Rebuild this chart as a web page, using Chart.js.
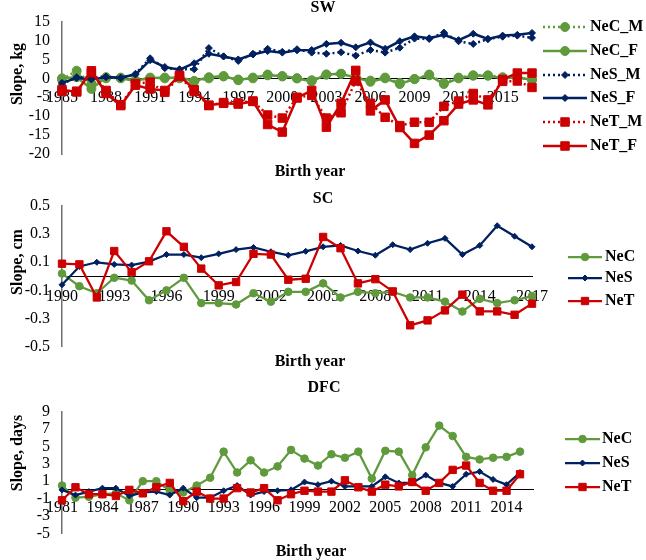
<!DOCTYPE html>
<html><head><meta charset="utf-8">
<script src="https://cdn.jsdelivr.net/npm/chart.js@4/dist/chart.umd.min.js"></script>
<style>
html,body{margin:0;padding:0;background:#fff;}
#wrap{position:relative;width:646px;height:560px;overflow:hidden;background:#fff;}
.panel{position:absolute;left:0;width:646px;}
canvas{display:block;}
</style></head><body>
<div id="wrap">
<div class="panel" style="top:0;height:180px"><canvas id="c1" width="646" height="180"></canvas></div>
<div class="panel" style="top:180px;height:190px"><canvas id="c2" width="646" height="190"></canvas></div>
<div class="panel" style="top:370px;height:190px"><canvas id="c3" width="646" height="190"></canvas></div>
</div>
<script>
// ---------- DATA ----------
const swYears = ['1985','1986','1987','1988','1989','1990','1991','1992','1993','1994','1995','1996','1997','1998','1999','2000','2001','2002','2003','2004','2005','2006','2007','2008','2009','2010','2011','2012','2013','2014','2015','2016','2017'];
const swNeC_M = [-0.3,2.0,-1.5,0.0,0.2,-0.5,0.0,0.2,0.0,-0.8,0.0,0.5,-0.3,0.0,1.0,0.5,0.0,-0.5,1.0,1.2,0.3,-0.6,0.2,-1.2,-0.2,1.0,-1.2,0.2,0.8,0.8,0.3,0.2,-0.4];
const swNeC_F = [0.0,0.3,-2.8,0.3,0.0,-0.7,0.2,0.0,0.3,-0.7,0.3,0.6,-0.5,0.2,0.8,0.6,0.0,-0.8,1.0,1.2,0.2,-0.9,0.0,-1.5,-0.2,0.8,-1.5,0.0,0.7,0.7,0.0,0.2,-0.4];
const swNeS_M = [-1.5,0.3,0.2,0.5,0.0,1.2,5.3,2.7,2.4,2.4,8.0,5.8,4.6,6.5,7.8,7.0,7.7,6.8,6.5,6.9,6.0,7.5,6.8,8.1,10.5,10.4,12.1,9.8,9.1,10.4,11.0,11.3,10.7];
const swNeS_F = [-1.2,0.1,-0.3,0.3,0.2,1.0,4.8,3.0,2.3,4.0,6.5,5.8,5.0,6.3,7.2,6.8,7.4,7.5,9.1,9.4,8.2,9.5,7.8,9.8,11.1,10.6,11.5,10.1,11.8,10.4,11.3,11.5,12.0];
const swNeT_M = [-3.5,-3.4,1.5,-3.2,-7.0,-1.4,-1.0,-3.7,0.5,-3.5,-7.2,-6.4,-6.5,-6.0,-9.7,-10.5,-5.0,-4.5,-10.5,-9.1,-0.7,-6.6,-10.3,-12.5,-11.6,-11.6,-7.4,-6.0,-4.0,-5.7,-0.8,-0.7,-2.4];
const swNeT_F = [-3.0,-3.6,2.0,-4.0,-7.2,-1.8,-2.8,-3.2,0.8,-3.0,-7.1,-6.6,-6.8,-6.1,-12.2,-14.2,-5.2,-3.2,-12.9,-6.6,2.1,-8.6,-5.7,-13.0,-17.2,-15.0,-11.2,-6.8,-5.7,-7.0,-0.3,1.4,1.4];
const swTicks = [-20,-15,-10,-5,0,5,10,15];

const scYears = ['1990','1991','1992','1993','1994','1995','1996','1997','1998','1999','2000','2001','2002','2003','2004','2005','2006','2007','2008','2009','2010','2011','2012','2013','2014','2015','2016','2017'];
const scNeC = [0.02,-0.07,-0.12,-0.01,-0.03,-0.17,-0.10,-0.01,-0.19,-0.19,-0.20,-0.12,-0.18,-0.11,-0.11,-0.05,-0.15,-0.11,-0.12,-0.11,-0.15,-0.15,-0.18,-0.25,-0.16,-0.19,-0.17,-0.14];
const scNeS = [-0.06,0.07,0.10,0.085,0.08,0.105,0.155,0.155,0.133,0.16,0.19,0.205,0.175,0.15,0.178,0.21,0.22,0.18,0.15,0.225,0.19,0.235,0.27,0.155,0.22,0.36,0.285,0.21];
const scNeT = [0.09,0.085,-0.15,0.18,0.03,0.107,0.32,0.21,0.055,-0.064,-0.04,0.16,0.155,-0.024,-0.017,0.28,0.20,-0.05,-0.02,-0.107,-0.348,-0.313,-0.242,-0.13,-0.249,-0.249,-0.273,-0.194];
const scTicks = [-0.5,-0.3,-0.1,0.1,0.3,0.5];

const dfcYears = ['1981','1982','1983','1984','1985','1986','1987','1988','1989','1990','1991','1992','1993','1994','1995','1996','1997','1998','1999','2000','2001','2002','2003','2004','2005','2006','2007','2008','2009','2010','2011','2012','2013','2014','2015','2016'];
const dfcNeC = [0.5,-0.9,-0.8,-0.5,-0.4,-1.2,1.0,1.0,-0.1,-0.3,0.5,1.4,4.4,2.0,3.4,2.0,2.7,4.6,3.6,2.8,4.1,3.7,4.4,1.3,4.5,4.4,1.7,4.9,7.4,6.2,3.8,3.5,3.7,3.8,4.4,null];
const dfcNeS = [0.0,-0.6,-0.2,0.2,0.2,-0.7,-0.3,-0.2,-0.6,0.2,-0.9,-0.9,-0.1,0.5,-0.6,-0.2,-0.1,0.0,0.9,0.6,1.0,0.4,0.4,0.4,1.5,0.8,0.8,1.7,0.8,0.4,1.8,2.1,1.2,0.6,2.0,null];
const dfcNeT = [-1.2,0.3,-0.5,-0.5,-0.7,0.0,-0.4,0.3,0.8,-1.3,-0.2,-1.0,-1.0,0.2,-0.3,0.2,-1.2,-0.5,-0.1,-0.2,-0.2,1.1,0.3,-0.2,0.6,0.4,0.9,-0.1,0.8,2.3,2.8,0.8,-0.1,-0.1,1.8,null];
const dfcTicks = [-5,-3,-1,1,3,5,7,9];

// ---------- STYLE ----------
const GREEN = '#5f9a3c', BLUE = '#002060', RED = '#cc0000';
const FONT = '"Liberation Serif","Times New Roman",serif';

function series(label, data, color, style, radius, dashed, order, lw) {
  return {label, data, borderColor: color, backgroundColor: color,
    pointBackgroundColor: color, pointBorderColor: color, pointBorderWidth: 1,
    pointStyle: style, pointRadius: radius, pointHoverRadius: radius,
    borderWidth: lw, borderDash: dashed ? [2, 3] : [], tension: 0,
    clip: false, order: order, spanGaps: false};
}

function marker(ctx, style, r, x, y) {
  ctx.beginPath();
  if (style === 'circle') { ctx.arc(x, y, r, 0, Math.PI * 2); }
  else if (style === 'rect') { const s = Math.SQRT1_2 * r; ctx.rect(x - s, y - s, 2 * s, 2 * s); }
  else { ctx.moveTo(x, y - r); ctx.lineTo(x + r, y); ctx.lineTo(x, y + r); ctx.lineTo(x - r, y); ctx.closePath(); }
  ctx.fill(); ctx.stroke();
}

const decor = {
  id: 'decor',
  afterDraw(chart, args, o) {
    const ctx = chart.ctx;
    ctx.save();
    ctx.fillStyle = '#000';
    ctx.font = 'bold 16px ' + FONT;
    ctx.textAlign = 'center'; ctx.textBaseline = 'middle';
    ctx.fillText(o.title, o.titleX, o.titleY);
    ctx.fillText(o.xTitle, o.xTitleX, o.xTitleY);
    ctx.save(); ctx.translate(o.yTitleX, o.yTitleY); ctx.rotate(-Math.PI / 2);
    ctx.fillText(o.yTitle, 0, 0); ctx.restore();
    chart.data.datasets.forEach((d, i) => {
      const y = o.legendY[i];
      ctx.save();
      ctx.strokeStyle = d.borderColor; ctx.lineWidth = d.borderWidth;
      ctx.setLineDash(d.borderDash || []);
      ctx.beginPath(); ctx.moveTo(o.legendX0, y); ctx.lineTo(o.legendX1, y); ctx.stroke();
      ctx.setLineDash([]);
      ctx.fillStyle = d.pointBackgroundColor; ctx.strokeStyle = d.pointBorderColor; ctx.lineWidth = 1;
      marker(ctx, d.pointStyle, d.pointRadius, (o.legendX0 + o.legendX1) / 2, y);
      ctx.restore();
      ctx.textAlign = 'left';
      ctx.fillText(d.label, o.legendTextX, y);
    });
    ctx.restore();
  }
};

function makeChart(id, years, datasets, yMin, yMax, yTicks, pad, xPad, deco) {
  return new Chart(document.getElementById(id), {
    type: 'line',
    data: {labels: years, datasets: datasets},
    plugins: [decor],
    options: {
      responsive: false, animation: false, events: [],
      layout: {padding: pad},
      plugins: {legend: {display: false}, tooltip: {enabled: false}, decor: deco},
      scales: {
        x: {type: 'category', position: {y: 0}, offset: false,
          grid: {display: false, drawTicks: false},
          border: {display: true, color: '#000', width: 1},
          ticks: {autoSkip: false, maxRotation: 0, minRotation: 0, padding: xPad, color: '#000',
            font: {family: FONT, size: 16},
            callback: function (v, i) { return i % 3 === 0 ? this.getLabelForValue(v) : ''; }},
          afterFit: s => { s.height = 0; }},
        y: {type: 'linear', min: yMin, max: yMax,
          grid: {display: false, drawTicks: false},
          border: {display: true, color: '#6f6f6f', width: 1.5},
          ticks: {autoSkip: false, padding: 12, color: '#000', font: {family: FONT, size: 16}},
          afterBuildTicks: s => { s.ticks = yTicks.map(v => ({value: v})); },
          afterFit: s => { s.width = 62; }}
      }
    }
  });
}

makeChart('c1', swYears, [
  series('NeC_M', swNeC_M, GREEN, 'circle', 4.5, true, 4, 2.5),
  series('NeC_F', swNeC_F, GREEN, 'circle', 4.5, false, 5, 2.5),
  series('NeS_M', swNeS_M, BLUE, 'rectRot', 3.5, true, 2, 2.5),
  series('NeS_F', swNeS_F, BLUE, 'rectRot', 3.5, false, 3, 2.5),
  series('NeT_M', swNeT_M, RED, 'rect', 6, true, 0, 2.5),
  series('NeT_F', swNeT_F, RED, 'rect', 6, false, 1, 2.5)
], -20, 15, swTicks, {left: 0, right: 114, top: 15, bottom: 26}, 10,
{title: 'SW', titleX: 323, titleY: 8, xTitle: 'Birth year', xTitleX: 310, xTitleY: 172,
 yTitle: 'Slope, kg', yTitleX: 18, yTitleY: 74,
 legendX0: 543, legendX1: 587, legendTextX: 590, legendY: [27, 51, 75, 98, 122, 146]});

makeChart('c2', scYears, [
  series('NeC', scNeC, GREEN, 'circle', 3.8, false, 2, 2.25),
  series('NeS', scNeS, BLUE, 'rectRot', 3, false, 1, 2.25),
  series('NeT', scNeT, RED, 'rect', 5.2, false, 0, 2.25)
], -0.5, 0.5, scTicks, {left: 0, right: 114, top: 26, bottom: 23.3}, 11,
{title: 'SC', titleX: 323, titleY: 19, xTitle: 'Birth year', xTitleX: 310, xTitleY: 182,
 yTitle: 'Slope, cm', yTitleX: 18, yTitleY: 82,
 legendX0: 568, legendX1: 602, legendTextX: 605, legendY: [77, 98, 121]});

makeChart('c3', dfcYears, [
  series('NeC', dfcNeC, GREEN, 'circle', 3.8, false, 2, 2.25),
  series('NeS', dfcNeS, BLUE, 'rectRot', 3, false, 1, 2.25),
  series('NeT', dfcNeT, RED, 'rect', 5.2, false, 0, 2.25)
], -5, 9, dfcTicks, {left: 0, right: 112.5, top: 41.7, bottom: 26.7}, 8.5,
{title: 'DFC', titleX: 324, titleY: 18, xTitle: 'Birth year', xTitleX: 311, xTitleY: 182,
 yTitle: 'Slope, days', yTitleX: 18, yTitleY: 83,
 legendX0: 565, legendX1: 600, legendTextX: 602, legendY: [69, 93, 117]});
</script>
</body></html>
